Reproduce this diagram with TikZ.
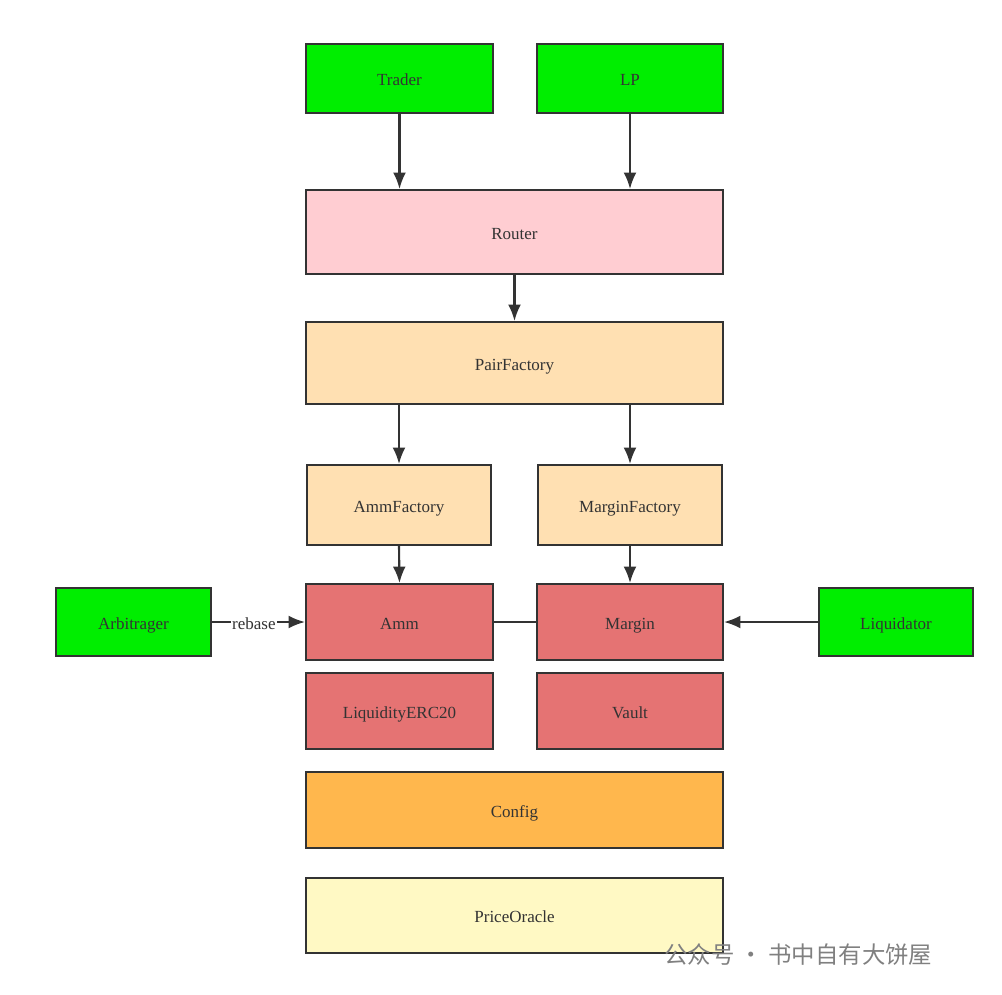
\documentclass[tikz,border=0pt]{standalone}
\usepackage{fontspec}
\setmainfont{Liberation Serif}
\newfontfamily\cjk{Noto Sans CJK SC}
\usetikzlibrary{arrows.meta}
\definecolor{cgreen}{HTML}{00EE00}
\definecolor{cpink}{HTML}{FFCDD2}
\definecolor{cpeach}{HTML}{FFE0B2}
\definecolor{cred}{HTML}{E57373}
\definecolor{corange}{HTML}{FFB74D}
\definecolor{cyellow}{HTML}{FFF9C4}
\definecolor{cline}{HTML}{333333}
\begin{document}
\begin{tikzpicture}[x=0.03cm,y=-0.03cm,
  box/.style={draw=cline,line width=1.8pt,inner sep=0pt,font=\fontsize{14.5}{17}\selectfont,text=cline,text depth=0pt,text height=12pt},
  arr/.style={draw=cline,line width=1.8pt,-{Latex[length=14pt,width=11pt]}}]
\useasboundingbox (0,0) rectangle (1002,994);
\newcommand\bx[6]{\node[box,fill=#6,minimum width=#4*0.03cm-1.8pt,minimum height=#5*0.03cm-1.8pt] (#1) at (#2,#3) {#1};}
\bx{Trader}{399.5}{78.5}{189}{71}{cgreen}
\bx{LP}{630}{78.5}{188}{71}{cgreen}
\bx{Router}{514.5}{232}{419}{86}{cpink}
\bx{PairFactory}{514.5}{363}{419}{84}{cpeach}
\bx{AmmFactory}{399}{505}{186}{82}{cpeach}
\bx{MarginFactory}{630}{505}{186}{82}{cpeach}
\bx{Amm}{399.5}{622}{189}{78}{cred}
\bx{Margin}{630}{622}{188}{78}{cred}
\bx{Arbitrager}{133.5}{622}{157}{70}{cgreen}
\bx{Liquidator}{896}{622}{156}{70}{cgreen}
\bx{LiquidityERC20}{399.5}{711}{189}{78}{cred}
\bx{Vault}{630}{711}{188}{78}{cred}
\bx{Config}{514.5}{810}{419}{78}{corange}
\bx{PriceOracle}{514.5}{915.5}{419}{77}{cyellow}
\draw[arr] (Trader.south) -- (Router.north -| Trader.south);
\draw[arr] (LP.south) -- (Router.north -| LP.south);
\draw[arr] (Router.south) -- (PairFactory.north);
\draw[arr] (PairFactory.south -| AmmFactory.north) -- (AmmFactory.north);
\draw[arr] (PairFactory.south -| MarginFactory.north) -- (MarginFactory.north);
\draw[arr] (AmmFactory.south) -- (Amm.north);
\draw[arr] (MarginFactory.south) -- (Margin.north);
\draw[arr] (Arbitrager.east) -- node[fill=white,inner sep=1pt,font=\fontsize{14.5}{17}\selectfont,text=cline,pos=0.45,text depth=0pt,text height=12pt]{rebase} (Amm.west);
\draw[arr] (Liquidator.west) -- (Margin.east);
\draw[cline,line width=1.8pt] (Amm.east) -- (Margin.west);
\node[text=gray,font=\cjk\fontsize{20}{22}\selectfont,anchor=west] (wm) at (660,955) {公众号 · 书中自有大饼屋};
\end{tikzpicture}
\end{document}
